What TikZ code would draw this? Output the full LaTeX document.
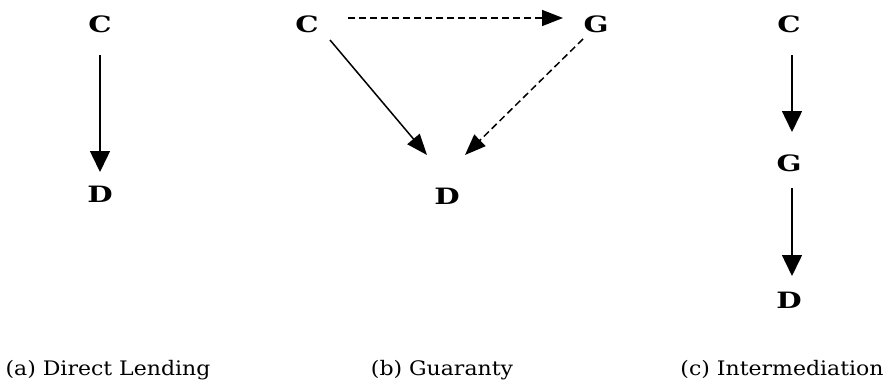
\documentclass[tikz,border=0pt]{standalone}
\usepackage{fontspec}
\setmainfont{DejaVu Serif}[FakeStretch=1.1]
\newfontfamily\lettfont{DejaVu Serif}[FakeStretch=1.3]
\usetikzlibrary{arrows.meta}
\begin{document}
\begin{tikzpicture}[x=1pt,y=-1pt,
  letter/.style={font=\lettfont\fontsize{22.5}{26}\selectfont\bfseries, inner sep=0pt},
  caption/.style={font=\fontsize{20}{24}\selectfont, inner sep=0pt, anchor=base},
  vline/.style={line width=1.5pt, -{Triangle[length=21pt,width=20pt]}},
  dline/.style={line width=1.5pt, -{Triangle[length=21pt,width=16pt]}},
  dashline/.style={dline, dash pattern=on 7pt off 4pt}]
\useasboundingbox (0,0) rectangle (885,383);
% (a)
\node[letter] (aC) at (100,24) {C};
\node[letter] (aD) at (100,194) {D};
\draw[vline, shorten <=31pt, shorten >=22pt] (aC.center) -- (aD.center);
% (b)
\node[letter] (bC) at (307,24) {C};
\node[letter] (bG) at (596,24) {G};
\node[letter] (bD) at (447,196) {D};
\draw[dashline] ([xshift=41pt,yshift=6pt]bC.center) -- ([xshift=-33pt,yshift=6pt]bG.center);
\draw[dline] ([xshift=23pt,yshift=-16pt]bC.center) -- ([xshift=-20pt,yshift=41pt]bD.center);
\draw[dashline] ([xshift=-13pt,yshift=-15pt]bG.center) -- ([xshift=18pt,yshift=41pt]bD.center);
% (c)
\node[letter] (cC) at (789,24) {C};
\node[letter] (cG) at (789,163) {G};
\node[letter] (cD) at (789,300) {D};
\draw[vline, shorten <=31pt, shorten >=31pt] ([xshift=3pt]cC.center) -- ([xshift=3pt]cG.center);
\draw[vline, shorten <=25pt, shorten >=24pt] ([xshift=3pt]cG.center) -- ([xshift=3pt]cD.center);
% captions
\node[caption] (capA) at (108,375) {(a) Direct Lending};
\node[caption] (capB) at (442,375) {(b) Guaranty};
\node[caption] (capC) at (782,375) {(c) Intermediation};
\end{tikzpicture}
\end{document}
